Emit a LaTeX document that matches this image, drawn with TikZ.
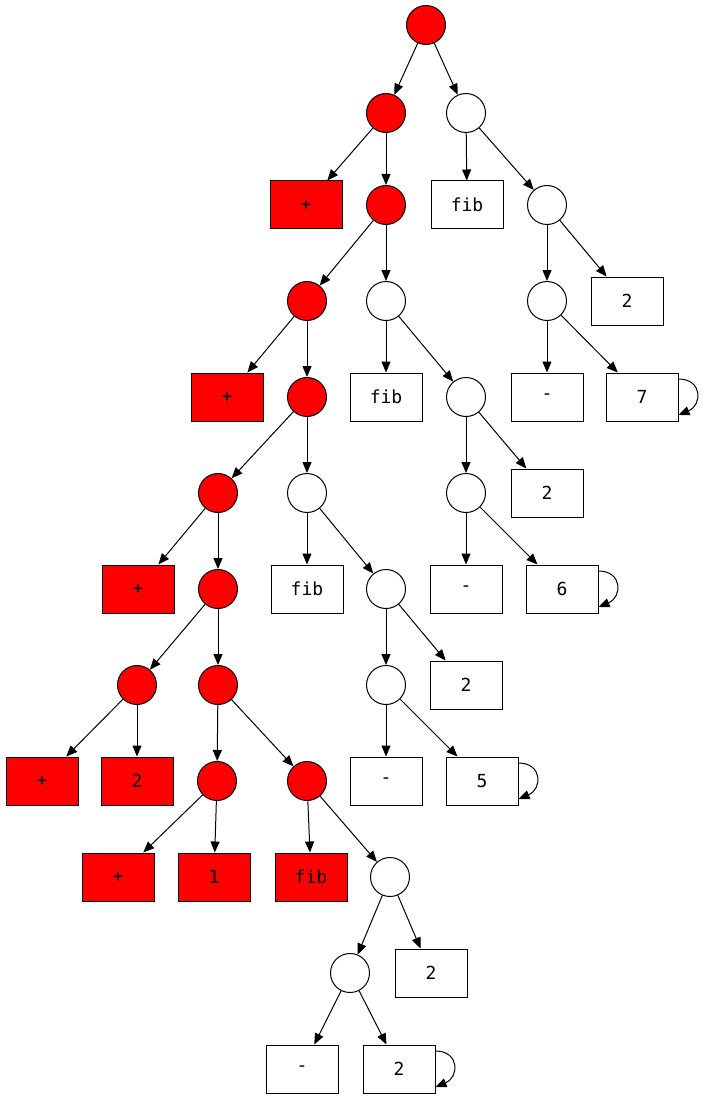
\documentclass[tikz,border=0pt]{standalone}
\usepackage{fontspec}
\setmonofont{DejaVu Sans Mono}
\usetikzlibrary{arrows.meta}

\begin{document}
\begin{tikzpicture}[x=1pt, y=-1pt,
  redcirc/.style={circle, draw, line width=1pt, fill=red, minimum size=39pt, inner sep=0pt},
  whitecirc/.style={circle, draw, line width=1pt, fill=white, minimum size=39pt, inner sep=0pt},
  redbox/.style={rectangle, draw, line width=1pt, fill=red, minimum width=72pt, minimum height=48pt, inner sep=0pt,
    font=\ttfamily\fontsize{18}{21}\selectfont},
  whitebox/.style={redbox, fill=white},
  edge/.style={-{Triangle[length=11pt, width=9pt]}, line width=1pt}]
  \useasboundingbox (0,0) rectangle (708,1099);

  % red part of the tree
  \foreach \n/\x/\y in {a1/426/25, a2/386/113, a3/386/205, a4/307/301, a5/307/397, a6/218/493,
      a7/218/589, a8/137/685, a9/218/685, a10/217/781, a11/307/781}
    \node[redcirc] (\n) at (\x,\y) {};

  \foreach \n/\x/\y in {w1/466/113, w2/547/205, w3/547/301, w4/386/301, w5/466/397, w6/466/493,
      w7/307/493, w8/386/589, w9/386/685, w10/390/877, w11/350/973}
    \node[whitecirc] (\n) at (\x,\y) {};

  \foreach \n/\x/\y/\t in {p1/306/205/+, p2/227/397/+, p3/138/589/+, p4/42/781/+, p5/137/781/2,
      p6/118/877/+, p7/214/877/1, p8/311/877/fib}
    \node[redbox] (\n) at (\x,\y) {\t};

  \foreach \n/\x/\y/\t in {f1/467/205/fib, q1/627/301/2, f2/386/397/fib, m1/547/397/-, s1/642/397/7,
      q2/547/493/2, f3/307/589/fib, m2/466/589/-, s2/562/589/6, q3/466/685/2, m3/386/781/-,
      s3/482/781/5, q4/431/973/2, m4/302/1069/-, s4/399/1069/2}
    \node[whitebox] (\n) at (\x,\y) {\t};

  \foreach \u/\v in {a1/a2, a1/w1, a2/p1, a2/a3, w1/f1, w1/w2, a3/a4, a3/w4, w2/w3, w2/q1,
      a4/p2, a4/a5, w4/f2, w4/w5, w3/m1, w3/s1, a5/a6, a5/w7, w5/w6, w5/q2,
      a6/p3, a6/a7, w7/f3, w7/w8, w6/m2, w6/s2, a7/a8, a7/a9, w8/w9, w8/q3,
      a8/p4, a8/p5, a9/a10, a9/a11, w9/m3, w9/s3, a10/p6, a10/p7, a11/p8, a11/w10,
      w10/w11, w10/q4, w11/m4, w11/s4}
    \draw[edge] (\u) -- (\v);

  % loops
  \foreach \n in {s1,s2,s3,s4}
    \draw[edge] ([yshift=18pt]\n.east) .. controls +(24,0) and +(24,-10) .. ([yshift=-18pt]\n.east);
\end{tikzpicture}
\end{document}
